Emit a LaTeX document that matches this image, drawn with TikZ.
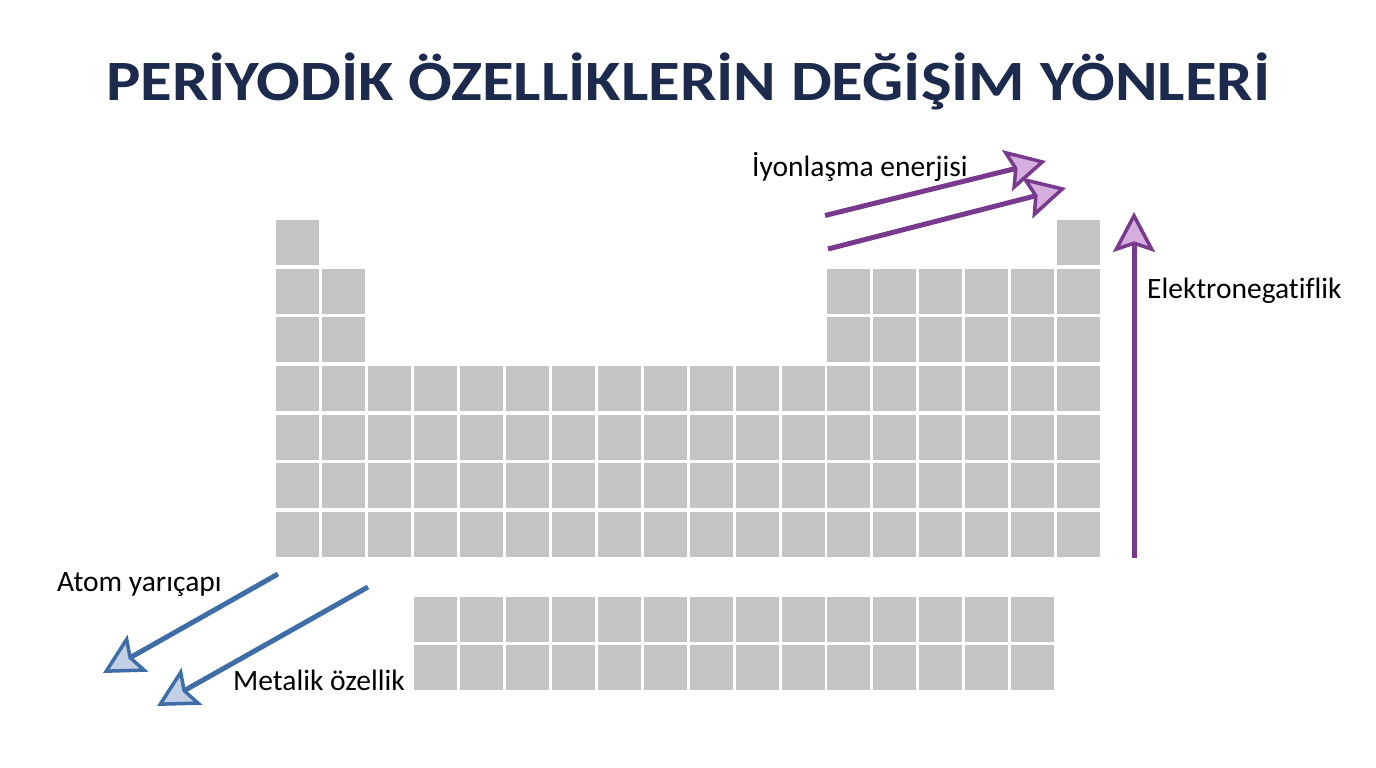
\documentclass[tikz,border=0pt]{standalone}
\usepackage{fontspec}
\setmainfont{Carlito}[Ligatures=NoCommon]
\usetikzlibrary{arrows.meta}
\definecolor{titlecol}{HTML}{1C2A4E}
\definecolor{cellgray}{HTML}{C4C4C4}
\definecolor{purp}{HTML}{783A8C}
\definecolor{purpfill}{HTML}{D5AEDF}
\definecolor{blu}{HTML}{3E6DA8}
\definecolor{blufill}{HTML}{C2D0E6}
\tikzset{
  cell/.style={fill=cellgray, draw=none, minimum width=43pt, minimum height=45pt, inner sep=0pt, anchor=north west},
  purparrow/.style={draw=purp, line width=5pt, -{Stealth[length=40pt, width=42pt, inset=7pt, fill=purpfill, line width=3.5pt]}},
  bluarrow/.style={draw=blu, line width=5pt, -{Stealth[length=40pt, width=42pt, inset=7pt, fill=blufill, line width=3.5pt]}},
  lbl/.style={font=\fontsize{29.5}{34}\selectfont, text=black, inner sep=0pt, anchor=base west},
}
\begin{document}
\begin{tikzpicture}[x=1pt,y=-1pt]
\useasboundingbox (0,0) rectangle (1376,768);
\fill[white] (0,0) rectangle (1376,768);
\node[font=\bfseries\fontsize{57}{60}\selectfont, text=titlecol, inner sep=0pt, anchor=base] (title) at (688,100) {\scalebox{1.135}[1]{PERİYODİK ÖZELLİKLERİN DEĞİŞİM YÖNLERİ}};
% main table
\def\px{45.94}
\def\py{48.6}
\foreach \c in {0,17} { \node[cell] (r1c\c) at (276+\c*\px, 220) {}; }
\foreach \r in {1,2} {
  \foreach \c in {0,1,12,13,14,15,16,17} { \node[cell] (r\r c\c) at (276+\c*\px, 220+\r*\py) {}; }
}
\foreach \r in {3,...,6} {
  \foreach \c in {0,...,17} { \node[cell] (r\r c\c) at (276+\c*\px, 220+\r*\py) {}; }
}
% f block
\foreach \r in {0,1} {
  \foreach \c in {3,...,16} { \node[cell] (f\r c\c) at (276+\c*\px, 596.5+\r*\py) {}; }
}
% arrows
\coordinate (ie1s) at (825,215.5);
\coordinate (ie1e) at (1046,161);
\coordinate (ie2s) at (828,249);
\coordinate (ie2e) at (1066,188);
\coordinate (ens) at (1134,558);
\coordinate (ene) at (1134,212);
\coordinate (ars) at (278,574);
\coordinate (are) at (103,673);
\coordinate (mos) at (368,587);
\coordinate (moe) at (157,706);
\draw[purparrow] (ie1s) -- (ie1e);
\draw[purparrow] (ie2s) -- (ie2e);
\draw[purparrow] (ens) -- (ene);
\draw[bluarrow] (ars) -- (are);
\draw[bluarrow] (mos) -- (moe);
% labels
\node[lbl] (ie) at (752,176) {İyonlaşma enerjisi};
\node[lbl] (en) at (1147,298) {Elektronegatiflik};
\node[lbl] (ar) at (57,591) {Atom yarıçapı};
\node[lbl] (mo) at (233,690) {Metalik özellik};
\end{tikzpicture}
\end{document}
